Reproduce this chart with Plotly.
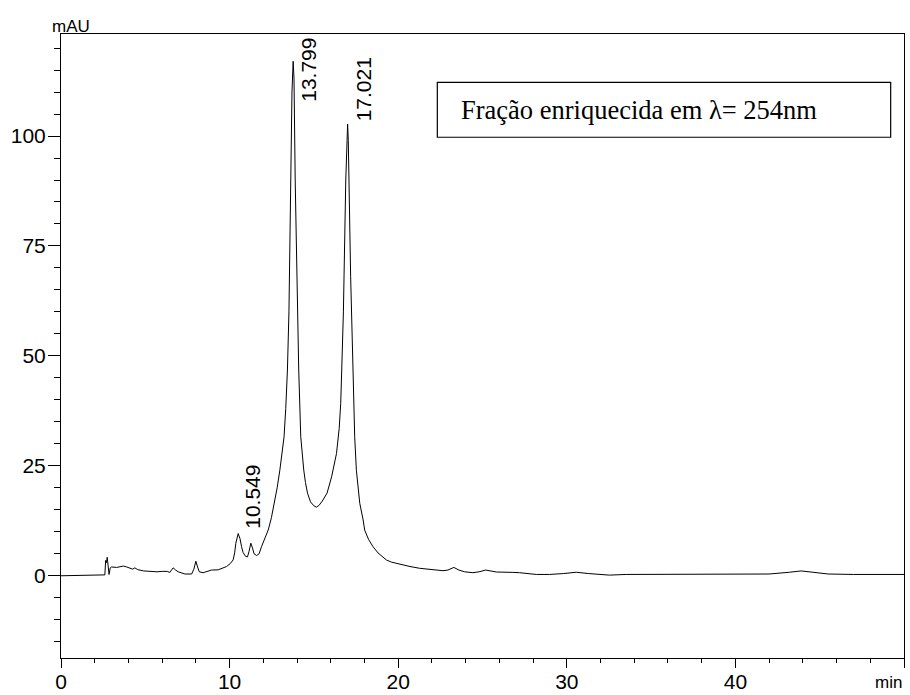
import plotly.graph_objects as go

# Retention time (min) and absorbance (mAU)
time_min = [
    0.0, 0.8, 1.5, 2.5, 2.6, 2.65, 2.7, 2.74, 2.8, 2.85, 2.92, 3.0, 3.3, 3.5, 3.7, 3.9,
    4.1, 4.25, 4.38, 4.55, 4.9, 5.3, 5.7, 6.0, 6.3, 6.45, 6.65, 6.8, 6.95, 7.35, 7.75,
    7.88, 8.0, 8.1, 8.2, 8.43, 8.7, 8.93, 9.32, 9.6, 9.82, 10.05, 10.21, 10.3, 10.37,
    10.51, 10.62, 10.71, 10.8, 10.95, 11.06, 11.15, 11.26, 11.36, 11.45, 11.6, 11.75,
    11.89, 12.1, 12.29, 12.48, 12.66, 12.82, 12.98, 13.1, 13.23, 13.33, 13.43, 13.52,
    13.61, 13.7, 13.77, 13.82, 13.89, 13.98, 14.1, 14.22, 14.3, 14.4, 14.5, 14.62, 14.8,
    15.0, 15.15, 15.3, 15.5, 15.78, 16.05, 16.34, 16.5, 16.59, 16.65, 16.75, 16.89,
    16.97, 17.0, 17.04, 17.07, 17.18, 17.32, 17.42, 17.52, 17.62, 17.72, 17.92, 18.01,
    18.25, 18.51, 18.8, 19.1, 19.3, 19.6, 20.09, 20.7, 21.27, 22.0, 22.66, 22.95, 23.3,
    23.6, 23.94, 24.43, 24.8, 25.19, 25.5, 25.82, 26.8, 27.2, 28.19, 28.98, 29.8, 30.56,
    31.3, 32.53, 33.52, 35.0, 36.2, 37.5, 39.05, 40.5, 42.0, 43.2, 43.9, 44.6, 45.5,
    47.0, 48.5, 50.0,
]
absorbance_mau = [
    0.0, 0.05, 0.1, 0.1, 0.2, 3.5, 3.0, 4.2, 1.0, 0.3, 1.8, 2.0, 1.9, 2.1, 2.2, 2.0,
    1.7, 1.5, 1.8, 1.4, 1.1, 0.95, 0.9, 1.0, 1.0, 0.75, 1.8, 1.3, 0.9, 0.4, 0.4,
    1.5, 3.3, 2.0, 0.9, 0.7, 1.0, 1.3, 1.35, 1.7, 2.1, 2.8, 3.6, 5.2, 7.4,
    9.6, 8.4, 6.6, 5.3, 4.4, 4.3, 5.5, 7.4, 6.3, 5.0, 4.6, 5.0,
    6.6, 8.4, 10.4, 13.2, 16.5, 20.0, 24.0, 27.8, 31.6, 38.0, 46.8, 60.0,
    90.0, 110.0, 117.0, 113.0, 90.0, 68.0, 46.8, 31.6, 27.2, 24.0, 21.2, 18.8, 16.8,
    15.9, 15.6, 16.0, 17.0, 18.8, 22.5, 27.8, 33.5, 39.2, 46.8, 60.0, 90.0,
    101.0, 102.7, 99.0, 90.0, 68.0, 46.8, 31.6, 24.0, 20.2, 16.5, 12.7, 10.4,
    8.2, 6.6, 5.2, 4.3, 3.6, 3.1, 2.6, 2.1, 1.7, 1.4, 1.15, 1.3, 1.9,
    1.3, 0.9, 0.7, 0.9, 1.3, 1.0, 0.85, 0.77, 0.7, 0.3, 0.3, 0.5, 0.8,
    0.5, 0.15, 0.3, 0.3, 0.25, 0.3, 0.3, 0.35, 0.4, 0.8, 1.1, 0.8, 0.4,
    0.3, 0.3, 0.3,
]

peak_labels = ["10.549", "13.799", "17.021"]
peak_label_x = [11.34, 14.66, 17.91]
peak_label_y = [18.0, 115.1, 110.6]

x_tick_vals = [0, 10, 20, 30, 40, 50]
x_tick_text = ["0", "10", "20", "30", "40", ""]
y_tick_vals = [0, 25, 50, 75, 100]
y_tick_text = ["0", "25", "50", "75", "100"]

legend_text = "Fração enriquecida em λ= 254nm"

SANS = "Arial, 'Liberation Sans', sans-serif"
SERIF = "'Times New Roman', 'Liberation Serif', serif"

fig = go.Figure()
fig.add_trace(go.Scatter(
    x=time_min, y=absorbance_mau, mode="lines",
    line=dict(color="black", width=1), showlegend=False,
))

for txt, xx, yy in zip(peak_labels, peak_label_x, peak_label_y):
    fig.add_annotation(x=xx, y=yy, xref="x", yref="y", text=txt, textangle=-90,
                       showarrow=False, xanchor="center", yanchor="middle",
                       font=dict(family=SANS, size=21, color="black"))

# legend-like box
fig.add_shape(type="rect", xref="paper", yref="paper",
              x0=0.4464, x1=0.9842, y0=0.8345, y1=0.9226,
              line=dict(color="black", width=1.2), fillcolor="rgba(0,0,0,0)")
fig.add_annotation(xref="paper", yref="paper", x=0.4725, y=0.878, text=legend_text,
                   showarrow=False, xanchor="left", yanchor="middle",
                   font=dict(family=SERIF, size=26.5, color="black"))

fig.add_annotation(xref="paper", yref="paper", x=0.0119, y=1.0128, text="mAU",
                   showarrow=False, xanchor="center", yanchor="middle",
                   font=dict(family=SANS, size=17, color="black"))
fig.add_annotation(xref="paper", yref="paper", x=1.0, y=-0.039, text="min",
                   showarrow=False, xanchor="right", yanchor="middle",
                   font=dict(family=SANS, size=17, color="black"))

fig.update_layout(
    width=910, height=695,
    margin=dict(l=61, r=6, t=34, b=37),
    paper_bgcolor="white", plot_bgcolor="white",
    font=dict(family=SANS, size=21, color="black"),
    xaxis=dict(range=[0, 50], tickmode="array", tickvals=x_tick_vals, ticktext=x_tick_text,
               ticks="outside", ticklen=9, tickwidth=1, tickcolor="black",
               ticklabelstandoff=-4,
               minor=dict(dtick=2, tick0=0, ticks="outside", ticklen=4, tickcolor="black"),
               showline=True, linecolor="black", linewidth=1, mirror=True,
               showgrid=False, zeroline=False, automargin=False),
    yaxis=dict(range=[-18.7, 123.2], tickmode="array", tickvals=y_tick_vals, ticktext=y_tick_text,
               ticks="outside", ticklen=12, tickwidth=1, tickcolor="black",
               ticklabelstandoff=-2,
               minor=dict(dtick=5, tick0=0, ticks="outside", ticklen=6, tickcolor="black"),
               showline=True, linecolor="black", linewidth=1, mirror=True,
               showgrid=False, zeroline=False, automargin=False),
)

fig.write_html("out.html")
